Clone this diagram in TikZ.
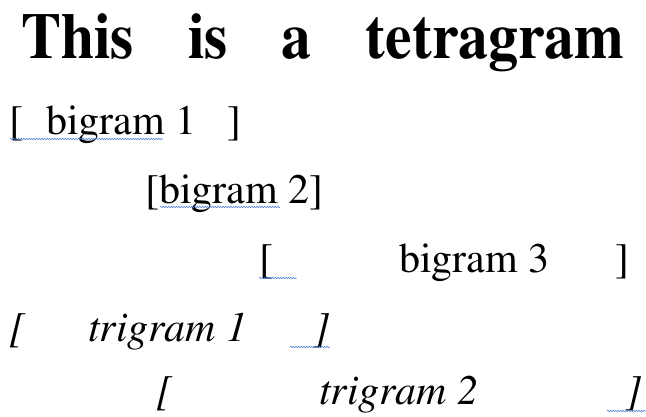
\documentclass[tikz,border=0pt]{standalone}
\usepackage[T1]{fontenc}
\usepackage{times}
\usetikzlibrary{decorations.pathmorphing}
\definecolor{spellblue}{HTML}{4A7BD8}

\begin{document}
\begin{tikzpicture}[
  x=1pt,
  y=-1pt,
  title/.style={anchor=base west,inner sep=0pt,font=\rmfamily\bfseries\fontsize{65}{72}\selectfont},
  gram/.style={anchor=base west,inner sep=0pt,font=\rmfamily\fontsize{42}{50}\selectfont},
  itgram/.style={anchor=base west,inner sep=0pt,font=\rmfamily\itshape\fontsize{42}{50}\selectfont},
  squiggle/.style={draw=spellblue,line width=0.5pt,decorate,
    decoration={snake,amplitude=0.8pt,segment length=2.6pt}}
]
  \useasboundingbox (0,0) rectangle (646,416);

  % Heading, spread over the full line.
  \node[title] (head) at (21,58) {\scalebox{0.92}[1]{\makebox[656pt][s]{This is a tetragram}}};

  % Bigrams.
  \node[gram] (bgA-l) at (9,134) {[};
  \node[gram] (bgA) at (46,134) {bigram 1};
  \node[gram] (bgA-r) at (227,134) {]};

  \node[gram] (bgB) at (145,203) {[bigram 2]};

  \node[gram] (bgC-l) at (259,272) {[};
  \node[gram] (bgC) at (399,272) {bigram 3};
  \node[gram] (bgC-r) at (615,272) {]};

  % Trigrams, in italics.
  \node[itgram] (tgA-l) at (9,341) {[};
  \node[itgram] (tgA) at (88,341) {trigram 1};
  \node[itgram] (tgA-r) at (313,341) {]};

  \node[itgram] (tgB-l) at (156,404) {[};
  \node[itgram] (tgB) at (319,404) {trigram 2};
  \node[itgram] (tgB-r) at (625,404) {]};

  % Spell-check marks.
  \draw[squiggle] (10,139) -- (163,139);
  \draw[squiggle] (160,207) -- (280,207);
  \draw[squiggle] (259,278) -- (297,278);
  \draw[squiggle] (290,347) -- (330,347);
  \draw[squiggle] (607,411) -- (646,411);
\end{tikzpicture}
\end{document}
